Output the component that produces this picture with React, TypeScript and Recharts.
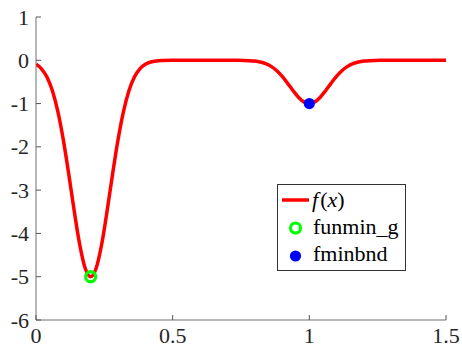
import React from 'react';
import {
  ComposedChart,
  Line,
  Scatter,
  XAxis,
  YAxis,
  Legend,
} from 'recharts';

// curve samples
const xValues = [
  0, 0.02, 0.04, 0.06, 0.08, 0.1, 0.12, 0.14, 0.16, 0.18, 0.2, 0.22, 0.24, 0.26, 0.28, 0.3,
  0.32, 0.34, 0.36, 0.38, 0.4, 0.42, 0.44, 0.46, 0.5, 0.55, 0.6, 0.65, 0.7, 0.74, 0.76, 0.78,
  0.8, 0.82, 0.84, 0.86, 0.88, 0.9, 0.92, 0.94, 0.96, 0.98, 1.0, 1.02, 1.04, 1.06, 1.08, 1.1,
  1.12, 1.14, 1.16, 1.18, 1.2, 1.22, 1.24, 1.26, 1.3, 1.35, 1.4, 1.45, 1.5,
];
const fValues = [
  -0.092, -0.196, -0.387, -0.704, -1.185, -1.839, -2.636, -3.488, -4.261, -4.804, -5.0, -4.804,
  -4.261, -3.488, -2.636, -1.839, -1.185, -0.704, -0.387, -0.196, -0.092, -0.04, -0.016, -0.006,
  -0.001, 0, 0, 0, 0, -0.001, -0.003, -0.008, -0.018, -0.039, -0.077, -0.141, -0.237, -0.368,
  -0.527, -0.698, -0.852, -0.961, -1.0, -0.961, -0.852, -0.698, -0.527, -0.368, -0.237, -0.141,
  -0.077, -0.039, -0.018, -0.008, -0.003, -0.001, 0, 0, 0, 0, 0,
];

// minima found by the two methods
const funminX = [0.2];
const funminY = [-5];
const fminbndX = [1.0];
const fminbndY = [-1];

const xTicks = [0, 0.5, 1, 1.5];
const yTicks = [1, 0, -1, -2, -3, -4, -5, -6];

const curve = xValues.map((x, i) => ({ x, y: fValues[i] }));
const funminPts = funminX.map((x, i) => ({ x, y: funminY[i] }));
const fminbndPts = fminbndX.map((x, i) => ({ x, y: fminbndY[i] }));

const serif: React.CSSProperties = {
  fontFamily: 'Liberation Serif, DejaVu Serif, serif',
  fontSize: 22,
};
const TEXT = '#262626';

const LeftTick = ({ x, y, payload }: any) => (
  <g>
    <line x1={x} x2={x + 5} y1={y} y2={y} stroke="#555" />
    <text x={x - 7} y={y + 7.5} textAnchor="end" style={serif} fill={TEXT}>
      {String(payload.value)}
    </text>
  </g>
);

const BottomTick = ({ x, y, payload }: any) => (
  <g>
    <line x1={x} x2={x} y1={y} y2={y - 5} stroke="#555" />
    <text x={x} y={y + 23} textAnchor="middle" style={serif} fill={TEXT}>
      {String(payload.value)}
    </text>
  </g>
);

const RightTick = ({ x, y }: any) => <line x1={x - 5} x2={x} y1={y} y2={y} stroke="#333" />;
const TopTick = ({ x, y }: any) => <line x1={x} x2={x} y1={y} y2={y + 5} stroke="#333" />;

const LegendBox = () => (
  <svg width={130} height={88} style={{ display: 'block' }}>
    <rect x={0.5} y={0.5} width={128} height={86} fill="#fff" stroke="#333" />
    <line x1={5} x2={32} y1={16} y2={16} stroke="#ff0000" strokeWidth={3.5} />
    <text x={35} y={23} style={serif} fill="#000">
      <tspan fontStyle="italic">f</tspan>
      <tspan dx={2}>(</tspan>
      <tspan fontStyle="italic">x</tspan>
      <tspan>)</tspan>
    </text>
    <circle cx={18.5} cy={44} r={5} fill="none" stroke="#00ff00" strokeWidth={3.2} />
    <text x={36} y={50} style={serif} fill="#000">funmin_g</text>
    <circle cx={18.5} cy={72} r={5.6} fill="#0000ff" />
    <text x={36} y={77} style={serif} fill="#000">fminbnd</text>
  </svg>
);

const App = () => {
  return (
    <div style={{ position: 'absolute', left: 0, top: 0, width: 462, height: 348, background: '#fff' }}>
      <ComposedChart
        width={462}
        height={348}
        data={curve}
        margin={{ top: 17, right: 16, bottom: 0, left: 0 }}
      >
        <XAxis
          dataKey="x"
          type="number"
          domain={[0, 1.5]}
          ticks={xTicks}
          allowDataOverflow
          height={28}
          tickSize={0}
          tickMargin={0}
          tick={<BottomTick />}
          axisLine={{ stroke: '#6e6e6e' }}
          tickLine={false}
        />
        <XAxis
          xAxisId="top"
          orientation="top"
          type="number"
          domain={[0, 1.5]}
          ticks={xTicks}
          allowDataOverflow
          height={0}
          tickSize={0}
          tickMargin={0}
          tick={<TopTick />}
          axisLine={{ stroke: '#262626' }}
          tickLine={false}
        />
        <YAxis
          type="number"
          domain={[-6, 1]}
          ticks={yTicks}
          allowDataOverflow
          width={36}
          tickSize={0}
          tickMargin={0}
          tick={<LeftTick />}
          axisLine={{ stroke: '#6e6e6e' }}
          tickLine={false}
        />
        <YAxis
          yAxisId="right"
          orientation="right"
          type="number"
          domain={[-6, 1]}
          ticks={yTicks}
          allowDataOverflow
          width={0}
          tickSize={0}
          tickMargin={0}
          tick={<RightTick />}
          axisLine={{ stroke: '#262626' }}
          tickLine={false}
        />
        <Legend
          verticalAlign="middle"
          layout="horizontal"
          wrapperStyle={{ left: 277, top: 184, width: 130, height: 88 }}
          content={() => <LegendBox />}
        />
        <Line
          type="monotone"
          dataKey="y"
          stroke="#ff0000"
          strokeWidth={3.5}
          dot={false}
          activeDot={false}
          isAnimationActive={false}
        />
        <Scatter
          data={funminPts}
          dataKey="y"
          isAnimationActive={false}
          shape={(p: any) => (
            <circle cx={p.cx} cy={p.cy} r={5} fill="none" stroke="#00ff00" strokeWidth={3.2} />
          )}
        />
        <Scatter
          data={fminbndPts}
          dataKey="y"
          isAnimationActive={false}
          shape={(p: any) => <circle cx={p.cx} cy={p.cy} r={5.6} fill="#0000ff" />}
        />
      </ComposedChart>
    </div>
  );
};

export default App;
